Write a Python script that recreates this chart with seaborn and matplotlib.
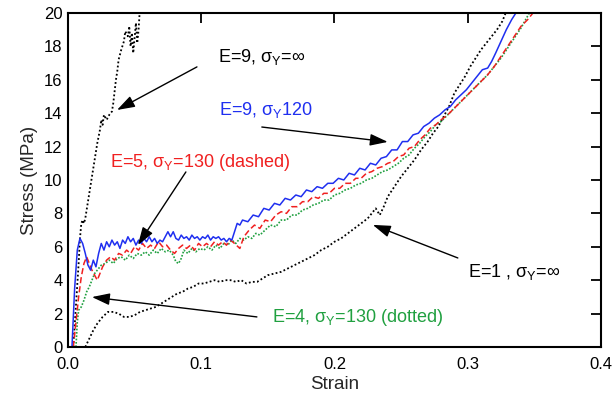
import matplotlib
matplotlib.use("Agg")
import matplotlib.pyplot as plt
import seaborn as sns
import pandas as pd

# Stress-strain curves (strain, stress in MPa)
e9_inf_strain = [0.004, 0.006, 0.008, 0.009, 0.010, 0.011, 0.012, 0.013, 0.014, 0.016,
                 0.018, 0.020, 0.022, 0.024, 0.025, 0.026, 0.027, 0.029, 0.031, 0.033,
                 0.034, 0.035, 0.036, 0.037, 0.038, 0.040, 0.042, 0.043, 0.045, 0.046,
                 0.047, 0.048, 0.049, 0.050, 0.051, 0.052, 0.053, 0.054]
e9_inf_stress = [0.0, 2.5, 5.0, 6.5, 7.4, 7.6, 7.4, 7.7, 8.2, 9.2,
                 10.2, 11.2, 12.2, 13.0, 13.6, 13.3, 13.9, 13.6, 13.9, 14.1,
                 14.6, 15.3, 16.0, 16.5, 17.2, 17.8, 18.3, 18.9, 18.6, 19.2,
                 18.0, 18.8, 17.6, 18.5, 19.4, 18.2, 19.0, 20.3]

e9_120_strain = [0.003, 0.005, 0.007, 0.009, 0.011, 0.013, 0.015, 0.017, 0.019, 0.021,
                 0.023, 0.025, 0.027, 0.029, 0.031, 0.033, 0.035, 0.037, 0.039, 0.041,
                 0.043, 0.045, 0.047, 0.049, 0.051, 0.053, 0.055, 0.057, 0.059, 0.061,
                 0.063, 0.065, 0.067, 0.069, 0.071, 0.073, 0.075, 0.077, 0.079, 0.081,
                 0.083, 0.085, 0.087, 0.089, 0.091, 0.093, 0.095, 0.097, 0.099, 0.101,
                 0.103, 0.105, 0.107, 0.109, 0.111, 0.113, 0.115, 0.117, 0.119, 0.121,
                 0.123, 0.125, 0.127, 0.129, 0.131, 0.135, 0.139, 0.143, 0.147, 0.151,
                 0.155, 0.159, 0.163, 0.167, 0.171, 0.175, 0.179, 0.183, 0.187, 0.191,
                 0.195, 0.199, 0.203, 0.207, 0.211, 0.215, 0.219, 0.223, 0.227, 0.231,
                 0.235, 0.239, 0.243, 0.247, 0.251, 0.255, 0.259, 0.263, 0.267, 0.271,
                 0.275, 0.279, 0.283, 0.287, 0.291, 0.295, 0.299, 0.303, 0.307, 0.311,
                 0.315, 0.318, 0.321, 0.325, 0.329, 0.333, 0.337]
e9_120_stress = [0.0, 3.5, 5.8, 6.5, 6.2, 5.6, 4.9, 4.6, 5.2, 4.8,
                 5.6, 6.2, 5.8, 6.3, 6.0, 6.4, 6.1, 6.3, 5.9, 6.4,
                 6.2, 6.6, 6.3, 6.5, 6.1, 6.4, 6.2, 6.5, 6.3, 6.6,
                 6.3, 6.5, 6.2, 6.4, 6.3, 6.6, 6.9, 6.6, 6.9, 6.5,
                 6.4, 6.7, 6.5, 6.6, 6.4, 6.7, 6.5, 6.6, 6.4, 6.6,
                 6.5, 6.7, 6.4, 6.6, 6.5, 6.6, 6.4, 6.5, 6.3, 6.5,
                 6.4, 6.9, 7.4, 7.3, 7.6, 7.5, 7.9, 7.8, 8.3, 8.2,
                 8.6, 8.5, 8.9, 8.8, 9.1, 9.0, 9.4, 9.3, 9.6, 9.5,
                 9.8, 9.8, 10.1, 10.0, 10.4, 10.3, 10.7, 10.6, 11.0, 10.9,
                 11.3, 11.4, 11.8, 11.8, 12.3, 12.3, 12.7, 12.8, 13.2, 13.4,
                 13.7, 13.9, 14.2, 14.4, 14.8, 15.1, 15.4, 15.8, 16.2, 16.6,
                 16.7, 17.1, 17.6, 18.3, 19.0, 19.6, 20.1]

e5_130_strain = [0.004, 0.006, 0.008, 0.010, 0.012, 0.014, 0.016, 0.018, 0.020, 0.022,
                 0.024, 0.026, 0.029, 0.032, 0.035, 0.038, 0.041, 0.044, 0.047, 0.050,
                 0.053, 0.056, 0.059, 0.062, 0.065, 0.068, 0.071, 0.074, 0.077, 0.080,
                 0.083, 0.086, 0.089, 0.092, 0.095, 0.098, 0.101, 0.104, 0.107, 0.110,
                 0.113, 0.116, 0.119, 0.122, 0.125, 0.129, 0.132, 0.136, 0.140, 0.144,
                 0.148, 0.152, 0.156, 0.160, 0.164, 0.168, 0.172, 0.176, 0.180, 0.184,
                 0.188, 0.192, 0.196, 0.200, 0.204, 0.208, 0.212, 0.216, 0.220, 0.224,
                 0.228, 0.232, 0.236, 0.240, 0.244, 0.248, 0.252, 0.256, 0.260, 0.264,
                 0.268, 0.272, 0.276, 0.280, 0.285, 0.290, 0.295, 0.300, 0.305, 0.310,
                 0.315, 0.320, 0.325, 0.330, 0.335, 0.340, 0.345, 0.350]
e5_130_stress = [0.0, 1.5, 3.0, 4.2, 5.0, 5.4, 5.0, 4.6, 4.3, 4.0,
                 4.4, 4.8, 5.2, 5.4, 5.2, 5.6, 5.5, 5.8, 5.6, 6.0,
                 5.8, 6.2, 5.9, 6.1, 5.9, 6.3, 6.0, 6.1, 5.8, 5.6,
                 5.9, 6.1, 5.9, 6.1, 5.8, 6.2, 6.0, 6.2, 6.0, 6.3,
                 6.1, 6.3, 6.1, 6.4, 6.2, 5.9, 6.6, 7.0, 7.3, 7.1,
                 7.6, 7.5, 7.9, 8.1, 8.0, 8.4, 8.4, 8.7, 8.7, 9.0,
                 8.9, 9.2, 9.2, 9.5, 9.5, 9.8, 9.8, 10.1, 10.1, 10.4,
                 10.5, 10.7, 10.8, 11.0, 11.1, 11.4, 11.5, 11.9, 12.0, 12.4,
                 12.7, 13.1, 13.3, 13.6, 13.9, 14.3, 14.7, 15.1, 15.5, 15.9,
                 16.3, 16.8, 17.4, 18.0, 18.6, 19.2, 19.6, 20.1]

e4_130_strain = [0.006, 0.007, 0.008, 0.010, 0.012, 0.014, 0.016, 0.018, 0.020, 0.022,
                 0.025, 0.028, 0.031, 0.034, 0.037, 0.040, 0.043, 0.046, 0.049, 0.052,
                 0.055, 0.058, 0.061, 0.064, 0.067, 0.070, 0.073, 0.076, 0.079, 0.081,
                 0.083, 0.085, 0.087, 0.090, 0.093, 0.096, 0.099, 0.102, 0.105, 0.108,
                 0.111, 0.114, 0.117, 0.120, 0.123, 0.126, 0.129, 0.132, 0.135, 0.138,
                 0.141, 0.144, 0.148, 0.152, 0.156, 0.160, 0.164, 0.168, 0.172, 0.176,
                 0.180, 0.184, 0.188, 0.192, 0.196, 0.200, 0.204, 0.208, 0.212, 0.216,
                 0.220, 0.224, 0.228, 0.232, 0.236, 0.240, 0.244, 0.248, 0.252, 0.256,
                 0.260, 0.264, 0.268, 0.272, 0.276, 0.280, 0.285, 0.290, 0.295, 0.300,
                 0.305, 0.310, 0.315, 0.320, 0.325, 0.330, 0.335, 0.340, 0.347]
e4_130_stress = [0.0, 1.5, 2.2, 2.4, 2.8, 3.3, 3.6, 4.0, 4.4, 4.6,
                 4.9, 5.0, 5.2, 5.0, 5.3, 5.4, 5.2, 5.5, 5.3, 5.6,
                 5.5, 5.7, 5.5, 5.8, 5.6, 5.9, 5.7, 5.8, 5.5, 5.1,
                 5.0, 5.3, 5.8, 5.6, 5.9, 5.7, 5.9, 5.8, 6.0, 5.8,
                 6.1, 5.9, 6.2, 6.1, 6.4, 6.2, 6.5, 6.4, 6.6, 6.5,
                 6.8, 6.7, 7.0, 7.3, 7.2, 7.6, 7.6, 7.9, 7.9, 8.2,
                 8.3, 8.5, 8.6, 8.8, 8.8, 9.1, 9.2, 9.4, 9.5, 9.7,
                 9.8, 10.0, 10.1, 10.3, 10.5, 10.6, 10.8, 11.0, 11.3, 11.5,
                 11.9, 12.2, 12.6, 12.9, 13.3, 13.5, 13.9, 14.3, 14.7, 15.1,
                 15.5, 15.9, 16.3, 16.8, 17.3, 17.9, 18.5, 19.1, 20.1]

e1_inf_strain = [0.013, 0.016, 0.019, 0.022, 0.026, 0.030, 0.034, 0.038, 0.042, 0.046,
                 0.050, 0.054, 0.058, 0.062, 0.066, 0.070, 0.074, 0.078, 0.082, 0.086,
                 0.090, 0.094, 0.098, 0.102, 0.106, 0.110, 0.114, 0.118, 0.122, 0.126,
                 0.130, 0.134, 0.138, 0.142, 0.146, 0.150, 0.155, 0.160, 0.165, 0.170,
                 0.175, 0.180, 0.185, 0.190, 0.195, 0.200, 0.205, 0.210, 0.215, 0.220,
                 0.225, 0.228, 0.231, 0.234, 0.237, 0.240, 0.245, 0.250, 0.255, 0.260,
                 0.265, 0.270, 0.274, 0.278, 0.282, 0.286, 0.290, 0.294, 0.298, 0.302,
                 0.306, 0.310, 0.314, 0.318, 0.322, 0.326, 0.329]
e1_inf_stress = [0.0, 0.5, 1.0, 1.4, 1.8, 2.1, 2.1, 2.0, 1.8, 1.8,
                 1.9, 2.1, 2.2, 2.3, 2.4, 2.6, 2.8, 3.0, 3.2, 3.3,
                 3.5, 3.6, 3.8, 3.8, 3.9, 4.0, 3.9, 4.0, 4.0, 3.9,
                 4.0, 3.8, 3.9, 3.9, 4.1, 4.3, 4.4, 4.5, 4.7, 4.9,
                 5.1, 5.3, 5.5, 5.8, 6.0, 6.3, 6.5, 6.8, 7.1, 7.4,
                 7.7, 8.0, 8.3, 7.9, 8.4, 9.0, 9.6, 10.2, 10.7, 11.2,
                 11.8, 12.3, 12.8, 13.2, 13.8, 14.4, 15.2, 15.7, 16.2, 16.8,
                 17.3, 17.8, 18.2, 18.6, 19.0, 19.5, 20.1]

x_ticks = [0.0, 0.1, 0.2, 0.3, 0.4]
y_ticks = [0, 2, 4, 6, 8, 10, 12, 14, 16, 18, 20]

sns.set_theme(style="white")
plt.rcParams["font.family"] = ["Liberation Sans", "DejaVu Sans"]
plt.rcParams["mathtext.fontset"] = "custom"
plt.rcParams["mathtext.rm"] = "Liberation Sans"
plt.rcParams["mathtext.it"] = "Liberation Sans"

fig = plt.figure(figsize=(6.14, 4.01), dpi=100)
ax = fig.add_axes([0.1107, 0.1347, 0.868, 0.833])

BLUE = "#1f2ff0"
RED = "#f02020"
GREEN = "#20a040"

curves = [
    (e1_inf_strain, e1_inf_stress, "black", (0, (1, 1.3)), 1.3),
    (e9_inf_strain, e9_inf_stress, "black", (0, (1, 1.3)), 1.3),
    (e4_130_strain, e4_130_stress, GREEN, (0, (1, 1)), 1.2),
    (e5_130_strain, e5_130_stress, RED, (0, (4, 2)), 1.1),
    (e9_120_strain, e9_120_stress, BLUE, "-", 1.1),
]
for xs, ys, col, ls, lw in curves:
    df = pd.DataFrame({"strain": xs, "stress": ys})
    sns.lineplot(data=df, x="strain", y="stress", sort=False, estimator=None,
                 color=col, linestyle=ls, linewidth=lw, ax=ax)

ax.set_xlim(0, 0.4)
ax.set_ylim(0, 20)
ax.set_xticks(x_ticks)
ax.set_xticklabels([f"{v:.1f}" for v in x_ticks])
ax.set_yticks(y_ticks)
ax.set_xlabel("Strain", fontsize=13.5, labelpad=3)
ax.set_ylabel("Stress (MPa)", fontsize=13.5, labelpad=4)
ax.tick_params(direction="in", length=7, width=1.3, top=True, right=True,
               labelsize=12, pad=4, colors="black")
ax.tick_params(axis="x", pad=7)
for s in ax.spines.values():
    s.set_linewidth(1.5)
    s.set_color("black")
    s.set_visible(True)

sub = r"$_{\mathregular{Y}}$"
labels = [
    (0.1125, 17.37, "E=9, σ" + sub + "=∞", "black"),
    (0.113, 14.19, "E=9, σ" + sub + "120", BLUE),
    (0.0315, 11.02, "E=5, σ" + sub + "=130 (dashed)", RED),
    (0.300, 4.49, "E=1 , σ" + sub + "=∞", "black"),
    (0.153, 1.74, "E=4, σ" + sub + "=130 (dotted)", GREEN),
]
for x, y, t, c in labels:
    ax.text(x, y, t, color=c, fontsize=13, ha="left", va="center")

arrows = [
    ((0.0968, 16.77), (0.0368, 14.19)),
    ((0.1455, 13.17), (0.2400, 12.28)),
    ((0.0885, 10.48), (0.0525, 6.11)),
    ((0.2926, 5.33), (0.2288, 7.31)),
    ((0.1418, 1.80), (0.0180, 2.99)),
]
for tail, head in arrows:
    ax.annotate("", xy=head, xytext=tail,
                arrowprops=dict(arrowstyle="-|>,head_length=0.9,head_width=0.3",
                                color="black", lw=1.0, shrinkA=0, shrinkB=0))

fig.savefig("out.png", dpi=100)
